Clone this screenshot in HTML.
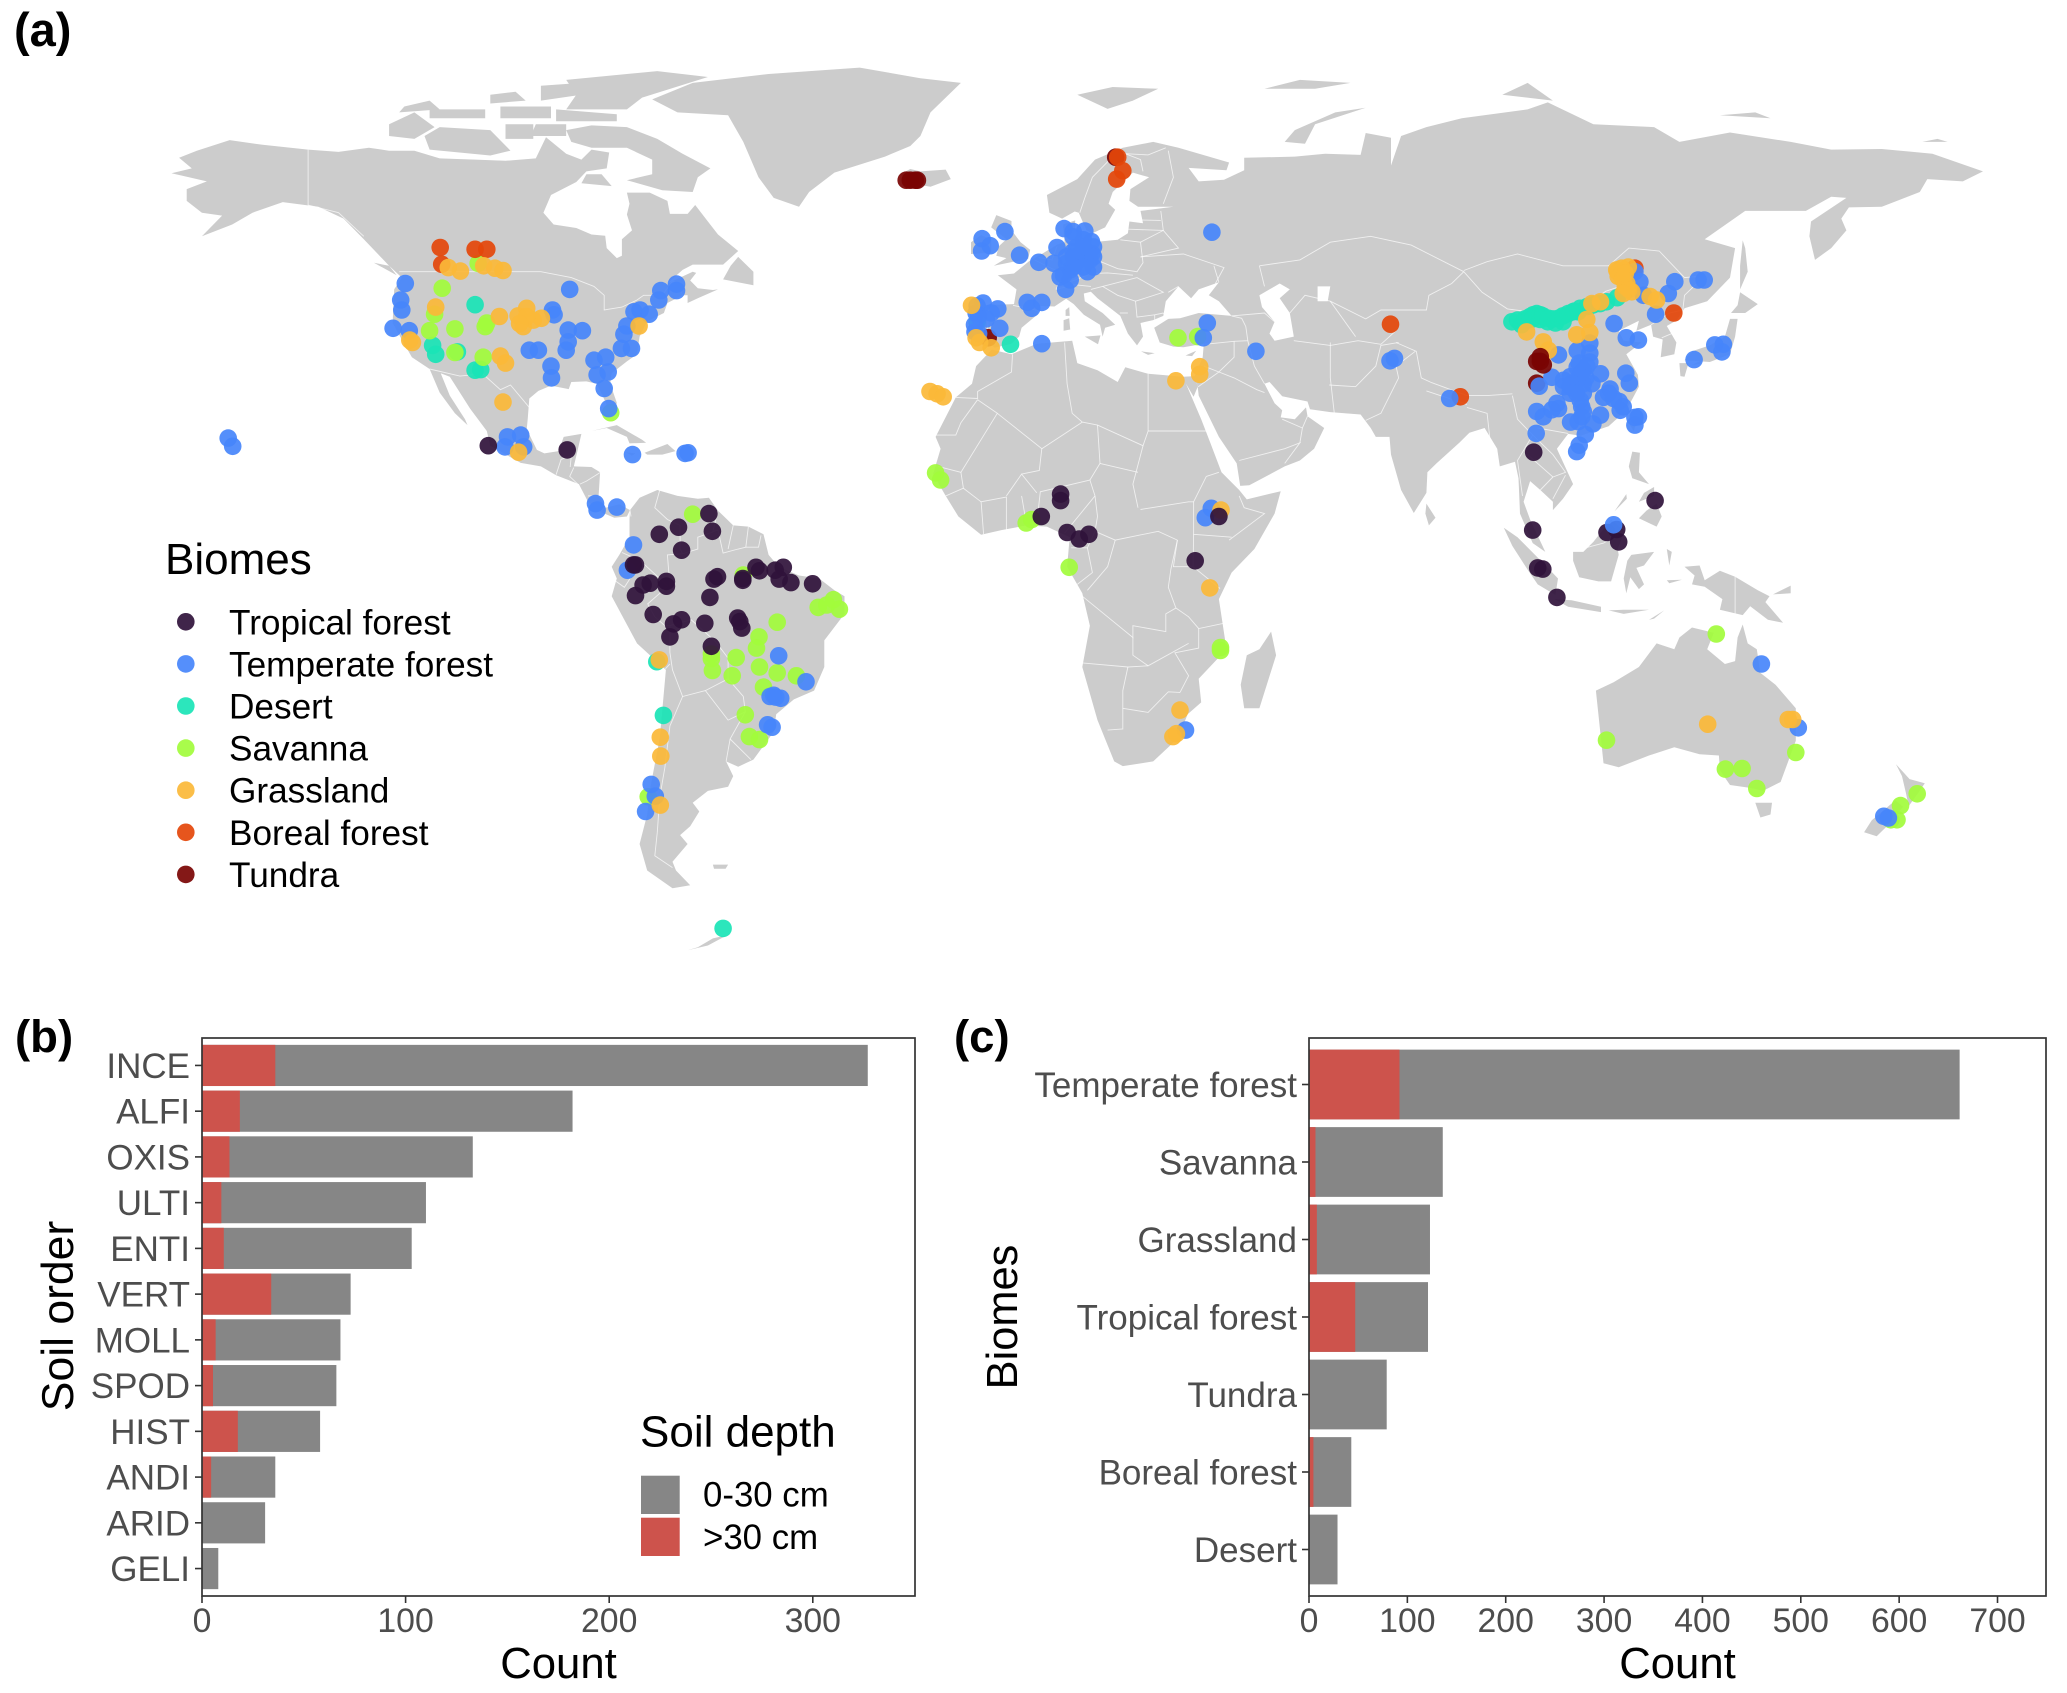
<!DOCTYPE html>
<html lang="en"><head><meta charset="utf-8"><title>Global soil samples by biome and soil order</title>
<style>
html,body{margin:0;padding:0;background:#fff}
svg{display:block;font-family:"Liberation Sans",Arial,sans-serif}
</style></head>
<body>
<svg id="fig" xmlns="http://www.w3.org/2000/svg" width="2067" height="1693" viewBox="0 0 2067 1693">
<rect width="2067" height="1693" fill="#fff"/>
<g id="land" fill="#cccccc" stroke="none"></g>
<g id="borders" fill="none" stroke="#ffffff" stroke-opacity="0.7" stroke-width="0.9"></g>
<g id="points"></g>
<text x="14" y="46" font-size="47" font-weight="bold">(a)</text>
<text x="15" y="1052" font-size="45.5" font-weight="bold">(b)</text>
<text x="954" y="1052" font-size="45.5" font-weight="bold">(c)</text>
<text x="165" y="574" font-size="44">Biomes</text>
<g id="biomeLegend"></g>
<g id="panelB"></g>
<g id="panelC"></g>
<text x="558.5" y="1678" font-size="43.7" text-anchor="middle">Count</text>
<text x="1677.5" y="1678" font-size="43.7" text-anchor="middle">Count</text>
<text transform="translate(73,1316) rotate(-90)" font-size="44.5" text-anchor="middle">Soil order</text>
<text transform="translate(1017,1317) rotate(-90)" font-size="43.4" text-anchor="middle">Biomes</text>
<text x="640" y="1446.7" font-size="44">Soil depth</text>
<rect x="641" y="1475.7" width="38.7" height="38.3" fill="#868686"/>
<rect x="641" y="1517.7" width="38.7" height="38.3" fill="#cd534c"/>
<text x="703" y="1506.7" font-size="34.8">0-30 cm</text>
<text x="703" y="1549" font-size="34.8">&gt;30 cm</text>
</svg>
<script>
// ---------- Panel (b) data ----------
const soilOrders = ['INCE','ALFI','OXIS','ULTI','ENTI','VERT','MOLL','SPOD','HIST','ANDI','ARID','GELI'];
const soilTotal  = [327,182,133,110,103,73,68,66,58,36,31,8];
const soilDeep   = [36,18.6,13.5,9.5,10.7,34,6.7,5.4,17.6,4.5,0,0];
const soilTicks  = [0,100,200,300];
// ---------- Panel (c) data ----------
const biomeCats  = ['Temperate forest','Savanna','Grassland','Tropical forest','Tundra','Boreal forest','Desert'];
const biomeTotal = [661.5,136,123,121,79,43,29];
const biomeDeep  = [92,6.6,8,47,1,4.5,0];
const biomeTicks = [0,100,200,300,400,500,600,700];
// ---------- Panel (a) data: [longitude, latitude] ----------
const biomeNames = ['Tropical forest','Temperate forest','Desert','Savanna','Grassland','Boreal forest','Tundra'];
const biomeColors = ['#30123b','#4686fb','#1ae4b6','#a2fc3c','#fbb938','#e4460a','#7a0403'];
const tropicalForest = [[-105.4,19.5],[-89.8,18.8],[-61.8,8],[-61.1,5],[-67.8,5.7],[-71.6,4.5],[-67.2,1.8],[-76.7,-.7],[-76.3,-.7],[-73.4,-3.8],[-74.8,-4.1],[-70.2,-3.5],[-70.2,-4.3],[-76.3,-5.9],[-72.8,-9.1],[-67.2,-10],[-68.8,-10.7],[-69.5,-12.9],[-62.6,-10.6],[-61.6,-6.2],[-60.8,-3.1],[-60.1,-2.7],[-55.1,-3],[-55.1,-3.3],[-52.5,-1.1],[-51.8,-1.7],[-48.7,-1.6],[-47.1,-1.1],[-47.9,-3.1],[-45.6,-3.7],[-41.3,-3.9],[-56.1,-9.7],[-55.7,-10.3],[-55.3,-11.4],[-61.3,-14.5],[7.7,11.3],[7.7,10.2],[3.9,7.5],[9,4.8],[11.4,3.7],[13.3,4.5],[34.3,0],[39,7.5],[101.2,18.4],[101,5.2],[125.2,10.2],[115.7,4.8],[117.6,5.3],[118,3.2],[102,-1.2],[103,-1.4],[105.8,-6.2]];
const temperateForest = [[-156.8,20.8],[-155.9,19.4],[-121.8,47],[-122.7,44.2],[-122.5,42.5],[-124.2,39.4],[-121,39],[-89.3,46],[-92.7,42.5],[-92.4,41.7],[-89.6,39.1],[-86.8,39],[-89.6,37.1],[-90,35.7],[-97.3,35.7],[-95.5,35.7],[-93,33],[-92.9,31],[-84.5,34],[-82.2,34.5],[-83.9,31.5],[-81.7,32],[-82.5,29.2],[-81.6,25.8],[-76.6,42.2],[-75.4,42.5],[-73.6,41.8],[-78,39.8],[-78.6,38.4],[-79.1,36],[-77.1,36],[-71.7,44.2],[-71.3,45.8],[-68.2,46.9],[-68.2,45.8],[-101.6,21],[-99,21.3],[-102.1,19.3],[-98.4,19.3],[-76.9,18],[-66.5,18.2],[-65.9,18.3],[-84.2,9.7],[-83.9,8.6],[-80,9.1],[-76.7,2.7],[-77.9,-1.6],[-48,-16.1],[-42.6,-20.5],[-49.7,-23],[-47.6,-23.3],[-48.6,-23.1],[-49,-22.8],[-50.2,-27.8],[-49.3,-28.2],[-73.2,-37.9],[-72.4,-39.9],[-74.3,-42.5],[-7.8,54.6],[-7.9,52.5],[-6.2,53.4],[-3.3,55.8],[-.4,51.8],[3.4,50.6],[7,53.1],[6.4,50.4],[8.4,56.3],[10.2,55.8],[12.5,55.9],[13.8,54.1],[10.2,52.4],[12.2,52.7],[13.9,52.1],[10.6,50.4],[8.3,48.4],[13,49],[8.7,46],[10.9,53.2],[12.2,54.4],[14.2,53.2],[9.6,49.3],[11.5,51.2],[8.9,50.4],[13.5,51],[10.2,54.9],[12.2,53.2],[14.2,51.5],[10.2,51.5],[12.2,49.8],[10.2,49.8],[14.2,49.8],[8.9,51.5],[7.6,48.1],[9.6,47.6],[1.1,43.8],[2,42.8],[4,43.8],[-8.8,43.2],[-7.6,43.7],[-4.7,42.7],[-9.2,38.8],[-4.3,39.4],[-9,42],[-9.3,40],[-8.5,41.5],[-6,42],[-7,41],[-8.5,38.5],[4,36.8],[37.6,55.7],[46.3,35.5],[36.7,40.3],[35.9,37.8],[72.8,33.9],[73.7,34.3],[84.6,27.5],[37.5,8.9],[36.3,7.3],[32.4,-28.7],[146.2,-17.5],[153.5,-28.3],[170.4,-43.3],[171.3,-43.6],[121.2,49],[122.2,47.3],[122.9,45],[125.3,41.8],[117.1,40.2],[119.5,37.8],[121.9,37.4],[129.1,47.3],[127.8,45.3],[133.7,47.6],[134.9,47.6],[137,36.6],[138.7,36.7],[138.4,35.4],[132.9,34.1],[106.1,34.9],[109.8,35.6],[112.3,36.9],[112.3,35.2],[112.3,33.7],[111,32.3],[104.8,31.1],[102.3,29.6],[108.4,31.2],[109.7,30.6],[107.1,29.5],[109,29.2],[111,30],[112.7,30],[114.4,31.7],[119.4,31.8],[120.1,30.1],[116.3,29.1],[115,27.7],[118.1,27],[118.3,25.5],[121.2,24.3],[121.9,24.4],[101.8,25.3],[103.1,24.4],[106.1,25.8],[110.7,26.1],[110.7,24.4],[108.5,23.5],[112.9,23.2],[114.4,24.7],[111.4,21.4],[110.2,19.6],[109.7,18.5],[101.7,21.6],[110.2,33.5],[111.5,31],[108.5,30],[107.1,30.6],[108.4,29.5],[109.7,28.4],[111,28.4],[108.4,28.4],[105.8,26.7],[104.8,25.6],[110.4,27.2],[111,25.3],[110,23.6],[116,28.4],[117,27.5],[118.9,26.1],[121.2,23],[111.7,33],[110.5,31.8],[109.8,32.8]];
const desert = [[-108,43.4],[-116.4,36.5],[-115.8,35],[-108,32.3],[-106.9,32.4],[-111.5,35.4],[-72.1,-17.1],[-70.8,-26.2],[-59,-62.3],[-8.8,40.5],[-2.2,36.7],[96.9,40.5],[98,40.8],[98.8,40],[99.5,41],[100,40.8],[100.5,41.4],[101.1,41.7],[101,41],[101.8,41.9],[102.5,41.7],[102.5,40.9],[103,41.5],[104.1,41.1],[104,40.5],[105,41],[105.5,40.3],[106.1,41.1],[107,41.5],[107,40.5],[108,41.9],[109,42.2],[109.2,42.3],[110,42.2],[110.4,42.8],[111.8,43.1],[112.4,43.2],[113,43.4],[114.3,43.6],[115.6,43.9],[117.7,44.6]];
const savanna = [[-114.5,46.2],[-116,41.8],[-117,39],[-112,39.3],[-105.7,40.3],[-106,39.7],[-112,35.3],[-106.4,34.5],[-107.4,50.4],[-81.2,25.1],[-65,7.9],[-55,-2.4],[-48.3,-10.4],[-51.9,-12.9],[-52.4,-14.8],[-40.2,-7.9],[-38.5,-7.5],[-37.2,-6.6],[-36,-8.2],[-61.3,-15.8],[-61.3,-16.6],[-61.1,-18.6],[-56.4,-16.4],[-57.2,-19.5],[-51.8,-18],[-48.3,-19],[-44.5,-19.5],[-51,-21.4],[-54.6,-26.1],[-53.8,-29.8],[-51.8,-30.3],[-73.8,-40],[-17,14.9],[-16,13.7],[.9,6.4],[2,7],[9.4,-1.1],[30.9,37.8],[34.8,38],[39.3,-15.2],[39.3,-14.7],[137.3,-12.4],[153,-32.5],[115.6,-30.4],[139.1,-35.3],[142.4,-35.2],[145.3,-38.6],[177,-39.5],[173.7,-41.5],[173,-43.9],[171.8,-43.9]];
const grassland = [[-113.3,49.7],[-110.9,49.1],[-106.3,50],[-104.1,49.6],[-102.5,49.2],[-115.8,43],[-103.2,41.4],[-99.5,41.5],[-97.8,42.8],[-96.5,40.8],[-94.9,41.1],[-98.5,39.7],[-97.8,41.4],[-99.2,40.2],[-120.9,37.4],[-120.4,37],[-103,34.7],[-102,33.5],[-102.5,26.9],[-99.4,18.4],[-75.6,39.8],[-71.6,-16.8],[-71.4,-29.9],[-71.3,-33.1],[-71.4,-41.4],[-18.1,28.7],[-16.7,28.3],[-15.5,27.8],[-9.9,43.3],[-9,37.8],[-8.3,37],[-6,36.1],[35.2,32.9],[35.2,31.6],[30.5,30.5],[37.2,-4.6],[39.4,8.6],[31.3,-25.3],[29.9,-29.8],[30.6,-29.3],[135.6,-27.7],[151.5,-26.9],[152.4,-26.9],[99.8,38.8],[103.1,37.1],[104.1,35.7],[111.7,40.9],[109.7,38.3],[112.3,38.7],[112.7,43.6],[114.4,43.9],[117.6,49.3],[118.6,49.6],[119.9,49.8],[117.9,48.2],[117.8,49],[118.5,48.5],[118.8,47.8],[119.6,47],[119.3,46.5],[120,46],[120.6,45.6],[124.2,44.8],[125.5,44.2],[119.3,48.7],[118.9,45.3]];
const borealForest = [[-114.9,53.1],[-114.6,50.25],[-108,52.8],[-105.7,52.8],[72.9,40.1],[86.7,27.8],[121.2,49.6],[128.9,42]];
const borealForestNorth = [[19,68.4],[20,66.1],[18.8,64.7]];
const tundra = [[-22.8,64.5],[-22,64.5],[-21,64.5],[-20.6,64.5],[18.6,68.4],[102.5,33.8],[101.8,33.8],[103.1,33.2],[102.5,34.6]];
const tundraHidden = [[-6.6,37.8],[101.8,30.1]];
const temperateBorneo = [[117,6.1]];
// ---------- Land outlines: [longitude, latitude] vertices ----------
const landPolygons = [
[[-168,65.7],[-164,66.5],[-166.5,68.3],[-163,69.5],[-156.5,71.3],[-150,70.5],[-141,69.7],[-135,69.3],[-129,70],[-125,69.5],[-120,69.5],[-115,68.2],[-108,68],[-102,67.8],[-96,68.2],[-94,71.8],[-90,69],[-87,68],[-85,69.7],[-81.5,69.2],[-82,66.5],[-86,66],[-88,64.2],[-93,62],[-94.5,59],[-92.5,57],[-88,56.4],[-85,55.3],[-82.3,55.1],[-82,53],[-80,51.3],[-79,51.7],[-79,54.5],[-77,56],[-78,58.7],[-77.5,60.5],[-78,62.4],[-73.5,62.4],[-70,61],[-69.5,58.8],[-66,58.8],[-64.5,60.3],[-62,57.5],[-60,55.3],[-56,52.5],[-59,50.2],[-65,50.2],[-67,49.3],[-70,47],[-65,49],[-64.3,48.8],[-65.5,47.5],[-64,46.2],[-61,45.9],[-60,46],[-64,44.5],[-66,43.7],[-66,45],[-67,45],[-70,43.7],[-70.7,42],[-74,40.6],[-75.5,38],[-76,35],[-78,33.8],[-81,31.8],[-81.3,30],[-80,26.8],[-80.4,25.2],[-81.8,26],[-82.8,28],[-84,30],[-86,30.4],[-89,30.3],[-89.5,29.1],[-93,29.7],[-95.5,28.8],[-97.3,27.5],[-97.6,24],[-97.8,22.3],[-95.8,18.8],[-94.3,18.2],[-91.5,18.6],[-90.5,21],[-87,21.5],[-87.8,18.5],[-88.5,16],[-85,15.9],[-83.3,15],[-83.6,11],[-82.2,9],[-79.5,9.6],[-77.4,8.6],[-78,7.5],[-80.5,7.3],[-83,8.2],[-85.7,10],[-87.5,13],[-92,14.5],[-95,16],[-99,16.6],[-105,19.5],[-105.7,22],[-109,25.8],[-113,31.2],[-114.8,31.8],[-113,28],[-110,24],[-109.5,23],[-112,25],[-115,28.5],[-117,32.5],[-120.5,34.5],[-122.5,37.5],[-124.3,40.3],[-124,46],[-122.5,48],[-125,50],[-130,54.5],[-134,58],[-139,60],[-146,60.8],[-152,59],[-156,57],[-162,55],[-158,58.5],[-162,59],[-165,61],[-165,63],[-161,64.3]],
[[-73,78.2],[-65,81],[-50,82.5],[-32,83.6],[-20,81.8],[-12,81],[-18,76],[-20,72],[-22,70.3],[-27,68.5],[-37,65.8],[-42,62.5],[-44,60],[-49,61.5],[-52,65],[-54,69],[-55,71],[-58,75.5],[-68,76]],
[[-61.5,66.5],[-64,65],[-65,62.5],[-71,62.8],[-78,64.5],[-73,65.5],[-73,68],[-78,70],[-85,70],[-89,71],[-90,73],[-85,73.8],[-78,73.5],[-72,71.5],[-67,69]],
[[-117,69.7],[-105,68.7],[-101,69.5],[-105,73],[-115,73.5],[-118,72]],
[[-125,72],[-120,71.5],[-116,73.5],[-120,76],[-125,74]],
[[-90,76.5],[-78,76.5],[-75,78.5],[-62,82],[-72,83],[-90,81.5],[-88,79]],
[[-92,74.5],[-80,74.5],[-80,75.7],[-92,76.5]],
[[-117,75],[-106,75],[-106,76.5],[-117,76.5]],
[[-97,72],[-90,72],[-90,74],[-96,74]],
[[-102,71.5],[-96.5,71.5],[-96.5,74],[-102,74]],
[[-103,75],[-93,75],[-93,77],[-103,77]],
[[-123,76],[-115,76.5],[-117,78],[-122,77]],
[[-105,77.5],[-98,78],[-100,79.5],[-105,79]],
[[-95,78],[-87,79],[-87,81],[-95,80.5]],
[[-87,64],[-81,63.5],[-83,65.5],[-86,65.5]],
[[-59,47.7],[-53,46.7],[-53,49],[-56,51.5],[-57.5,50]],
[[-128,50.5],[-123.5,48.4],[-125,50]],
[[-85,22],[-80,23],[-75,20.5],[-74.2,20],[-77.5,19.9],[-78,21],[-82,22.5]],
[[-74.5,18.3],[-70,19.8],[-68.4,18.6],[-71,18],[-74,18]],
[[-78.3,18.4],[-76.3,18.2],[-77,17.8]],
[[-67.2,18.4],[-65.7,18.4],[-65.9,18],[-67.2,18]],
[[-24,65.5],[-22,64],[-18,63.4],[-14,64.7],[-15,66.3],[-20,66],[-22,66.4]],
[[11,79],[17,76.6],[22,78],[27,80],[18,80.3]],
[[52,71],[56,70.7],[58,74],[68,76.8],[62,76],[54,73]],
[[95,79],[105,78],[100,81]],
[[138,75.5],[148,75],[145,76]],
[[48,80],[58,80],[65,81],[55,81.5]],
[[178,71],[183,71],[181,71.5]],
[[-77.4,8.6],[-75.5,10.7],[-72,12],[-68,11],[-64,10.5],[-61.8,10.7],[-60,8.5],[-57,6],[-54,5.8],[-51,4.5],[-50,1],[-48,-1],[-44,-2.5],[-40,-3],[-37,-5],[-35,-6],[-35,-9],[-39,-13.5],[-39,-18],[-41,-22],[-45,-23.5],[-48.5,-26],[-49,-29],[-53,-33.7],[-56,-34.9],[-58.4,-34],[-57,-36.5],[-58,-38.3],[-62,-39],[-65,-41],[-63.7,-42.5],[-65.5,-45],[-67.5,-46.5],[-66,-48],[-69,-51],[-68.3,-52.5],[-65.5,-55],[-69,-55.5],[-74,-52.5],[-75.5,-48],[-74,-43],[-73.5,-39],[-71.5,-30],[-70.3,-18.5],[-76,-14],[-81,-6],[-80,-3],[-81,-1],[-79.5,1],[-77.5,4],[-77.5,7]],
[[-61,-51.5],[-58,-51.5],[-58.5,-52.2],[-60.8,-52.2]],
[[-57.5,-63.3],[-61,-64],[-64,-65.5],[-66,-66],[-62,-65.2],[-58.5,-63.6]],
[[-5.9,35.8],[-2,35],[3,36.8],[10,37.3],[11,33.5],[15,32.3],[19,30.3],[20.5,32.8],[25,31.7],[32,31.2],[34.2,31.3],[34.8,29.5],[34,27.8],[32.5,30],[35.5,24],[37.3,20],[39.5,15],[43,12],[44.5,10.4],[51.2,11.8],[50,8],[46,2],[41.5,-2],[39,-6.5],[40.5,-15],[35,-20],[35.5,-24],[32.8,-26],[31,-30],[26,-34],[20,-34.8],[18.3,-34],[15,-27],[12,-18],[13.5,-11],[12,-5.5],[9,-1],[9.5,4],[5,5.8],[1,6],[-4,5.2],[-8,4.4],[-12.5,7.5],[-15,11],[-17.5,14.7],[-16,19],[-17,21],[-13,27.7],[-9.8,30],[-9,33]],
[[49.3,-12],[50.3,-16],[47,-25],[44,-25],[43.3,-21],[44.5,-16],[47,-15]],
[[-9,37],[-9.5,38.8],[-8.8,43.3],[-1.5,43.5],[-1,46],[-4.7,48.4],[-1.5,48.7],[1.5,50.8],[4,52],[7,53.6],[8.5,54],[8.2,57],[10.6,57.7],[10.5,54.8],[14,54],[19,54.4],[21,55.5],[21.3,57.5],[24,57.2],[23.5,59.3],[30,60],[23,60],[21.3,61],[21.5,63],[25.2,65],[22,65.8],[18,62.5],[17.2,60.5],[18.5,59.5],[16.5,56.5],[14,55.5],[12.8,56],[11.3,59],[10.5,59.2],[8,58],[5.5,59],[5,62],[11,64.7],[14.5,68],[20,70],[26,71],[31,70],[41,67.5],[40.5,66.2],[33,66.6],[35,64.3],[40,64.6],[44,66.2],[44,68.3],[54,68.5],[60,69],[67,68.8],[68,72.5],[73,71.7],[73,67],[75,72],[80,73.5],[87,75],[100,76.5],[104,77.7],[113,74],[125,73.5],[130,71],[140,72.6],[152,71],[160,69.7],[170,69.8],[180,69],[190,66],[186,64.3],[179,64.7],[177.5,62.5],[170,60],[163.5,59.9],[162,58],[163,56],[160,53],[156.8,51],[155.7,55],[156,57.5],[163,61.5],[160,61.7],[155,59.3],[143,59.3],[135,54.5],[141,53],[140,48],[135.5,44],[131,42.8],[129.5,40.8],[127.5,39.8],[129.4,37],[129,35],[126.3,34.5],[126.7,37.5],[124.8,38],[124.4,40],[121.5,39],[122,40.7],[118,39],[119,37.3],[122.5,37],[119.5,35],[121.8,31.5],[122,29.5],[119.5,25.5],[116,22.8],[110.5,21.2],[108,21.5],[105.8,19],[109,13],[107,10.5],[105,8.6],[105,10],[102.5,12],[100.5,13.5],[99.2,10],[100.5,7],[103.5,1.5],[101,3],[98.5,8],[98.2,14],[97.5,16.8],[94.5,16],[94,19],[91.5,22.5],[88.5,21.7],[86.5,20],[82,16.5],[80.2,15],[80,11.5],[77.5,8.1],[75,12],[73,18],[72.7,21],[70,21],[69,22.5],[67,24.8],[61,25.2],[57,25.7],[56.5,27],[51.5,27.9],[49,30.3],[48,30],[50,26.7],[51.5,25.5],[51.2,24.3],[54,24],[56.2,26],[56.5,24.5],[59.8,22.5],[57.8,19],[55,17],[52,16],[45,12.8],[43.2,12.7],[42.5,16.5],[39,21],[35,28],[34.8,29.5],[34.2,31.3],[35.8,34.5],[36,36.8],[32,36.2],[30,36.3],[27.3,37],[26.2,39.5],[29,41],[31.3,41.1],[35,42],[41.5,41.5],[39,44],[37,45],[39,47.2],[35,46],[33.5,44.5],[31,46.5],[28.5,44],[28,41.5],[26,40.8],[23.5,40.3],[24,38],[22.8,36.5],[21,38.5],[19.5,41.5],[15,44.5],[13.7,45.6],[12.3,45.3],[12.5,44],[16,42],[18.5,40],[16.5,39.5],[16,38],[15.5,40],[12.3,41.7],[10.3,43.5],[8.8,44.4],[6.5,43.1],[3.2,43.2],[3.2,41.8],[0,39.5],[-.5,38],[-2,36.8],[-5.3,36.1],[-6.5,36.9]],
[[-5.5,50],[1.3,51.2],[1.7,52.7],[-.2,54],[-2,56],[-2,57.6],[-5,58.6],[-6,56.5],[-3,54.5],[-4.5,53.3],[-5,51.7],[-3,51.3]],
[[-10,52],[-6,52.2],[-6,54.5],[-8,55.2],[-10,54]],
[[8.3,39],[9.6,39.2],[9.4,41.1],[8.3,40.8]],
[[8.7,41.5],[9.5,41.5],[9.4,43],[8.7,42.5]],
[[12.5,38],[15.6,38.2],[15.1,36.7]],
[[23.6,35.5],[26.3,35.2],[25,34.9]],
[[32.4,34.8],[34.5,35.6],[33.7,34.7]],
[[131,34],[136,33.7],[140,35],[141,38],[141.5,41],[140,41],[139,38],[136,36.5],[132.5,35.5]],
[[130,33.5],[131.8,33.5],[131,31.2],[130.2,31.3]],
[[132.5,33.2],[134.5,34],[134,33.3]],
[[140.2,42],[143,42],[145.5,43.5],[142,45.5],[141.5,43.3]],
[[142,46],[143.5,49],[143,53],[142.5,54.3],[142,50]],
[[120.2,23],[121,22],[122,25],[121,25.2]],
[[108.7,19],[110,18.3],[111,19.8],[109.5,20]],
[[120,16],[120.7,18.5],[122.2,18.3],[122,15],[124,13],[120.7,14]],
[[122,7.2],[125.5,5.8],[126.5,7.5],[125.5,9.7],[123.5,8.5]],
[[122,10],[125,11],[125,12.5],[123,11.5]],
[[117.2,8.4],[119.5,11.3],[119.6,10.5]],
[[95.3,5.6],[98,4],[103.8,-1],[106,-3],[105.5,-5.8],[102,-4],[100,-1.5],[97,2.5]],
[[105.3,-6.5],[108.7,-6.7],[114.5,-7.8],[114.5,-8.7],[108,-7.8]],
[[116,-8.4],[119,-8.3],[124,-8.3],[119,-9]],
[[124,-10],[127,-8.4],[125,-9.8]],
[[109,1.5],[111,1.5],[113,3.2],[116.5,7],[119.2,5],[117.8,2],[118,1],[116.5,-3.5],[114,-3.5],[110.2,-2.8],[109,0]],
[[119.5,-5.5],[120.3,-2.8],[122,-4.8],[123,-4],[121.5,-1.2],[123,-.8],[125,1.5],[120.5,1],[119.7,0],[119,-3]],
[[127.5,2],[128.5,1.5],[128,-.8]],
[[127.5,-3.3],[130.5,-3.2],[128,-3.8]],
[[131,-1],[134,-.8],[135,-3.3],[138,-1.7],[141,-2.7],[145.5,-5],[147.8,-6],[147,-7],[150.5,-10.5],[147.5,-10],[144,-7.7],[142.5,-9.2],[138,-8.3],[138.5,-6.5],[135,-4.4],[132.5,-4],[133,-2.5]],
[[148.5,-5.7],[152,-4.2],[152,-5.5]],
[[113.5,-22],[114,-26],[115,-34.3],[118,-35],[124,-33],[129,-31.6],[134,-32.8],[137.8,-33],[138,-35.5],[140,-38],[144,-38.5],[146.5,-39],[150,-37.5],[153,-30.5],[153,-25],[149,-21],[146,-19],[145.3,-15],[143.5,-14],[142.5,-10.8],[141.5,-13],[141,-17],[139,-17.5],[135.5,-15],[136.8,-12.2],[132.5,-11.3],[130,-13],[129,-15],[125.5,-14],[122,-18],[117,-20.6]],
[[145,-41],[148.3,-41],[148,-43],[146,-43.5]],
[[172.8,-34.5],[175.5,-37],[178.5,-37.7],[177,-39.6],[175.3,-41.6],[174.8,-39.5],[174,-36.5]],
[[172.7,-40.6],[174.2,-41.7],[171,-45],[169,-46.7],[166.5,-46],[168,-44]],
[[80,9.7],[81.8,7.3],[80.5,6],[79.8,8]]
];
// Inland seas cut out of the land
const seaPolygons = [
[[47,45],[51,47],[53,46],[51,44.5],[53,42],[53.8,38],[50,37.3],[49,38.5],[50,40.5],[47.5,43]],
[[58.5,46.5],[61,46.5],[60.5,44],[58.5,44]]
];
const borderLines = [
[[-141,69.7],[-141,60.3],[-135,59],[-130,55]],
[[-123,49],[-95,49],[-89,48],[-84.5,46.5],[-82.5,45],[-82.5,42.5],[-79,43],[-76,44.2],[-74.7,45],[-71,45],[-69,47.4],[-67.8,47],[-67,45]],
[[-117,32.5],[-111,31.3],[-106.5,31.7],[-103,29],[-101,29.8],[-97.3,26]],
[[-92,14.6],[-91,17.2],[-89,17.8],[-88.3,18.4]],[[-89,17.8],[-89.2,15.9]],[[-87.7,13],[-89.3,14.3],[-88.5,15.8]],[[-83.2,15],[-86,13.5],[-87.3,13]],[[-83.7,11],[-85.7,11]],[[-83,8.3],[-82.7,9.5]],
[[-77.4,8.6],[-77.2,7.5]],
[[-71.5,12],[-72.5,9],[-70,7],[-67.5,6],[-67.5,2],[-67,1.2],[-70,1],[-69.5,-4.2]],
[[-69.9,-4.3],[-73.9,-7.3],[-72.5,-9.5],[-70.5,-11],[-69.5,-11]],
[[-79,1.4],[-75.2,0],[-75.2,-.1],[-78.5,-4.5],[-80.3,-3.4]],[[-75.2,-.1],[-70,-4.2]],
[[-60,8.5],[-61,5],[-60,5.2],[-64,4],[-64,2],[-67,1.2]],
[[-60,5.2],[-59,1.3],[-56,2],[-54.5,2.3],[-52,2.3],[-51.5,4.3]],[[-57,6],[-58,2]],[[-54,5.8],[-54.5,2.3]],
[[-69.5,-11],[-65.3,-10],[-60.5,-13.7],[-58,-16.5],[-58,-20],[-62.5,-22],[-67,-23],[-69,-18.5],[-69.5,-15.5],[-69.5,-11]],
[[-70.4,-18.3],[-69.5,-17.5]],[[-67,-23],[-69.5,-28],[-70.5,-35],[-71.5,-40],[-72,-46],[-72.5,-50],[-69,-52]],
[[-62.5,-22],[-58,-27],[-54.6,-25.6],[-55,-23],[-58,-20]],[[-54.6,-25.6],[-57.6,-30.2],[-58.4,-34]],[[-57.6,-30.2],[-53.5,-33.7]],
[[-1.8,35],[-2,32],[-8.7,28.7],[-8.7,27.5],[-13,27.7]],[[-17,21.3],[-13,21.3],[-12,23.4],[-8.7,27.3]],[[-8.7,27.3],[-4.8,25],[-12,15],[-16.5,16]],
[[8.5,37],[9,30],[10,25],[12,23.5],[15,23],[24,19.5],[25,22],[25,31.7]],[[25,22],[37,22]],
[[-4.8,25],[4,19],[3.5,15.3],[0,14.7]],[[4,19],[12,23.5]],[[15,23],[15.5,16.5],[13.5,13.7]],[[3,6.4],[3.7,11.7],[13.5,13.7],[14.5,11],[8.5,4.7]],
[[24,19.5],[22,13],[23,9]],[[23.5,8.7],[33,10],[34,10]],[[36.5,14.3],[34,10],[34,4.5],[41.5,4]],[[41,3.5],[48,8],[44,9],[43,11]],[[39,15],[36.5,14.3]],
[[30.8,3.5],[29.5,-1.4],[29,-4.5],[30.5,-8],[28.5,-9],[28.5,-12],[22,-11],[22,-13],[12,-6]],[[14.5,5],[18.5,3.5],[27,5],[30.8,3.5]],[[18.5,3.5],[17,-1],[13,-5]],
[[12,-17.3],[21,-18],[25,-17.8]],[[22,-13],[22,-16],[25,-17.8],[33,-14]],[[17,-28.7],[20,-28.5],[20,-22],[21,-18]],[[20,-25],[25,-25.7],[29,-22.2],[31.3,-22.3]],[[31.3,-22.3],[33,-19.5],[30.3,-15.6],[35,-14.8],[35,-11.5],[40.4,-10.5]],[[30.5,-8],[33,-9.5],[35,-11.5]],[[33.9,-1],[39.2,-4.7]],[[33.9,-1],[30,-1],[30.8,3.5]],[[33.9,-1],[34,4.5]],
[[-11.5,12.3],[-15,11]],[[-7.5,4.5],[-8,10],[-3,10.8],[-3,5]],[[1,6],[0,11]],[[-3,11],[0,14.7],[3,11.5]],[[-12,15],[-11.5,12.3],[-8,10]],[[9.8,2.2],[13,2.2],[14.5,5]],[[11,-4],[14,-2],[13,2.2]],[[15.5,16.5],[23,15]],[[14.5,11],[15,7.5],[14.5,5]],
[[-8.8,42],[-6.5,41.8],[-7,37.2]],[[-1.7,43.3],[3.2,42.4]],[[2.5,51],[6,49.5],[8.2,49],[7.6,47.6]],[[6.8,46],[10.4,46.8],[13.7,46.5]],[[3.4,51.4],[6,51],[7,53.3]],[[14.3,54],[14.8,51],[12.2,50.3],[13.8,48.7],[10,47.4],[7.6,47.6],[6.8,46]],[[8.7,54.9],[9.9,54.8]],[[19.5,54.4],[23.5,54],[24,50.5],[22.8,49],[19,49.5],[14.8,51]],[[13.8,48.7],[17,48.8],[22,48.4]],[[13.7,46],[16,46.5],[22.8,48],[28,45.5],[22.5,44],[22.8,41.3],[26.3,41.7],[28,42]],[[21,42],[19.4,42]],[[16,46.5],[19,45],[22.5,44]],[[23.5,51.5],[32,52],[40,49.7],[38.3,47]],[[23.5,54],[28,56],[31,53],[23.5,51.5]],[[28,56],[27.5,59.3]],[[21,56.2],[28,56]],[[21.5,57.8],[27.5,57.7]],[[28,60.5],[30,65],[29,69.5]],[[11.5,59],[12.5,61.5],[14,65],[18,68.5],[20.5,69],[25,68.8],[28.5,70]],[[24,66],[23.5,68],[20.5,69]],
[[26.3,41.7],[26.3,40.5]],[[36.2,36.7],[42,37.2],[44.7,37.3],[44.3,39.7],[43.5,41.1],[41.5,41.5]],[[44.7,37.3],[46,33],[48,30]],[[34.9,29.5],[39,32],[42,31],[46.5,29],[48,28.5]],[[43,17],[52,19],[55,20],[52,16.5]],[[55,20],[55.5,22.5],[56.5,24.5]],[[51.5,24],[55.5,22.5]],[[36,33],[39,32],[42,34.5],[42,37.2]],[[61,37],[61,31],[61.8,25]],[[60.8,29.8],[66,29.5],[70,33],[71,36.5],[74.5,37]],[[68,23.8],[71,25],[74.5,31],[74,33],[77.8,35.5]],[[53.8,37.3],[61,36.5],[66.5,37.3],[71,36.7],[74,39]],[[53,42],[56,45],[61,44],[68,41],[71,42.5],[80,42.5],[80.5,45],[85,47],[87.4,49]],[[61,44],[66,38]],[[47,50],[48,46.5]],[[47,50],[55,51],[61,54],[69,55],[77,53.5],[87.4,49]],[[87.4,49.2],[92,50.7],[98,52],[107,50],[116,50],[120,47],[115.5,45.7],[111.5,43.5],[105,41.7],[96,42.7],[91,45.5],[87.4,49]],[[116,50],[120,53],[126,52.5],[131,48],[135,48.3],[131,45],[130.7,42.6]],[[124.4,40],[128,42],[130.7,42.5]],[[126.5,37.8],[128.5,38.5]],[[74,37],[78,35.5],[79,31],[81,30.2],[88,28],[92,28],[97,28.3]],[[80,28.8],[88,26.5]],[[88,26],[92,25],[92.5,21]],[[97,28],[98,24],[101,21.3],[98,17],[99,11]],[[101,21.3],[105,18],[107.5,15],[105,14.2],[100,18]],[[102,22.5],[108,21.6]],[[102.5,12],[105,14.2]],[[107.5,14.5],[105,10.5]],[[109.7,1.8],[115,3],[117.5,4.2]],[[141,-2.7],[141,-9]],[[29,41],[28,42]],[[41.5,41.5],[48,42],[50,40.5]],[[39,47.2],[38,50]],[[31,46.5],[29,45.5]]
];

// ---------- Scales ----------
function lonToX(lon){ return 1021.6 + 5.06*lon; }
function latToY(lat){ return 560.8 - 5.9*lat; }
const NS = 'http://www.w3.org/2000/svg';
function mk(tag, attrs, parent, txt){
  const e = document.createElementNS(NS, tag);
  for (const k in attrs) e.setAttribute(k, attrs[k]);
  if (txt !== undefined) e.textContent = txt;
  parent.appendChild(e);
  return e;
}
function geoPath(vs, close){
  return vs.map((p,i)=>(i?'L':'M')+lonToX(p[0]).toFixed(1)+' '+latToY(p[1]).toFixed(1)).join('')+(close?'Z':'');
}
// ---------- Map ----------
const landG = document.getElementById('land');
landPolygons.forEach(function(poly){
  const el = mk('path',{d:geoPath(poly,true),'stroke-linejoin':'round'},landG);
  
  
});
seaPolygons.forEach(function(poly){
  const el = mk('path',{d:geoPath(poly,true),fill:'#ffffff'},landG);
  
  
});
const borderG = document.getElementById('borders');
borderLines.forEach(function(line){
  const el = mk('path',{d:geoPath(line,false)},borderG);
  
  
});
// ---------- Points (draw order matters) ----------
const drawOrder = [[tundraHidden,6],[desert,2],[savanna,3],[borealForest,5],[temperateForest,1],[grassland,4],[tropicalForest,0],[tundra,6],[borealForestNorth,5],[temperateBorneo,1]];
const pointG = document.getElementById('points');
drawOrder.forEach(function(entry){
  entry[0].forEach(function(p){
    const el = mk('circle',{cx:lonToX(p[0]).toFixed(1),cy:latToY(p[1]).toFixed(1),r:8.8,fill:biomeColors[entry[1]],'fill-opacity':0.92},pointG);
    
    
  });
});
// ---------- Biome legend ----------
const legendG = document.getElementById('biomeLegend');
biomeNames.forEach(function(name,i){
  const cy = 621.8 + i*42.1;
  const dot = mk('circle',{cx:185.8,cy:cy,r:8.8,fill:biomeColors[i],'fill-opacity':0.92},legendG);
  
  
  const lab = mk('text',{x:229,y:cy+12.5,'font-size':35.2,fill:'#000'},legendG,name);
  
  
});
// ---------- Bar panels ----------
function barPanel(g, box, maxX, cats, totals, deep, ticks, catSize){
  const xOf = v => box.left + (v/maxX)*(box.right-box.left);
  const step = (box.bottom-box.top)/(cats.length+0.2);
  const yOf = i => box.top + step*(0.6+i);
  const h = step*0.9;
  cats.forEach(function(c,i){
    const total = mk('rect',{x:xOf(0),y:yOf(i)-h/2,width:xOf(totals[i])-xOf(0),height:h,fill:'#868686'},g);
    
    
    if (deep[i] > 0) {
      const d = mk('rect',{x:xOf(0),y:yOf(i)-h/2,width:xOf(deep[i])-xOf(0),height:h,fill:'#cd534c'},g);
      
      
    }
    const tk = mk('line',{x1:box.left-7,x2:box.left,y1:yOf(i),y2:yOf(i),stroke:'#333','stroke-width':1.6},g);
    
    
    const lab = mk('text',{x:box.left-12,y:yOf(i)+12.5,'font-size':catSize,fill:'#4d4d4d','text-anchor':'end'},g,c);
    
    
  });
  ticks.forEach(function(t){
    const tk = mk('line',{x1:xOf(t),x2:xOf(t),y1:box.bottom,y2:box.bottom+7,stroke:'#333','stroke-width':1.6},g);
    
    
    const lab = mk('text',{x:xOf(t),y:box.bottom+36,'font-size':33.8,fill:'#4d4d4d','text-anchor':'middle'},g,String(t));
    
    
  });
  const frame = mk('rect',{x:box.left,y:box.top,width:box.right-box.left,height:box.bottom-box.top,fill:'none',stroke:'#333','stroke-width':1.7},g);
  
  
}
barPanel(document.getElementById('panelB'),{left:202,right:915,top:1038,bottom:1596},350.2,soilOrders,soilTotal,soilDeep,soilTicks,35);
barPanel(document.getElementById('panelC'),{left:1309,right:2046,top:1038,bottom:1596},749.3,biomeCats,biomeTotal,biomeDeep,biomeTicks,35);
</script>
</body></html>
